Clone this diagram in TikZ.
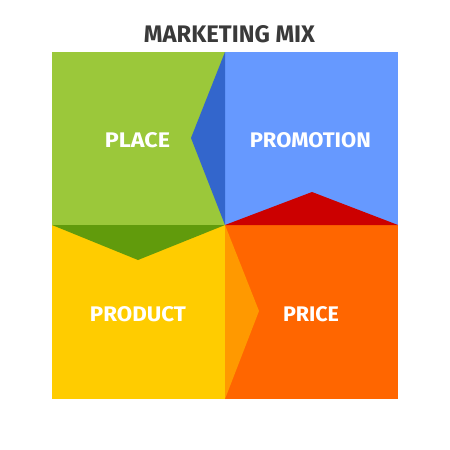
\documentclass[tikz,border=0pt]{standalone}
\usepackage{fontspec}
\setmainfont{Fira Sans}
\usepackage{graphicx}
\definecolor{cgreen}{HTML}{9BC83A}
\definecolor{cdgreen}{HTML}{619B0C}
\definecolor{cblue}{HTML}{6699FF}
\definecolor{cdblue}{HTML}{3366CC}
\definecolor{corange}{HTML}{FF6600}
\definecolor{cred}{HTML}{CC0000}
\definecolor{cyellow}{HTML}{FFCC00}
\definecolor{clorange}{HTML}{FF9900}
\definecolor{ctitle}{HTML}{3A3A3A}
\tikzset{
  lbl/.style={text=white, font=\bfseries, inner sep=0pt, anchor=center},
  ttl/.style={text=ctitle, font=\bfseries, inner sep=0pt, anchor=center}
}
\begin{document}
\begin{tikzpicture}[x=1pt,y=-1pt]
\useasboundingbox (0,0) rectangle (450,450);
\fill[white] (0,0) rectangle (450,450);
% quadrants
\fill[cgreen] (52,52) rectangle (225,225);
\fill[cblue] (225,52) rectangle (398,225);
\fill[cyellow] (52,225) rectangle (225,399);
\fill[corange] (225,225) rectangle (398,399);
% arrow triangles
\fill[cdblue] (225,52) -- (191,138) -- (225,225) -- cycle;
\fill[cred] (225,225) -- (312,192) -- (398,225) -- cycle;
\fill[cdgreen] (52,225) -- (138,260) -- (225,225) -- cycle;
\fill[clorange] (225,225) -- (259,311) -- (225,399) -- cycle;
% texts
\node[ttl] (title) at (229.5,34.5) {\resizebox{171pt}{17pt}{MARKETING MIX}};
\node[lbl] (place) at (137.5,140.2) {\resizebox{65pt}{15pt}{PLACE}};
\node[lbl] (promotion) at (310.3,140.5) {\resizebox{121pt}{15pt}{PROMOTION}};
\node[lbl] (product) at (138,314.2) {\resizebox{96pt}{15pt}{PRODUCT}};
\node[lbl] (price) at (311,314.2) {\resizebox{56pt}{15pt}{PRICE}};
\end{tikzpicture}
\end{document}
